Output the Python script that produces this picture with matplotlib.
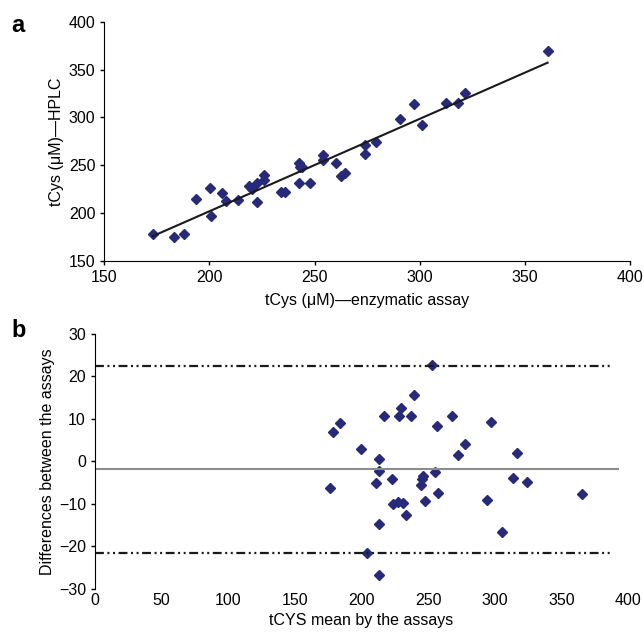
import numpy as np
import matplotlib
matplotlib.use('Agg')
from matplotlib import pyplot as plt

plt.rcParams['font.family'] = ['Liberation Sans', 'DejaVu Sans']
plt.rcParams['font.size'] = 11.5

# panel a: enzymatic assay vs HPLC (uM)
enzymatic = [173.0, 182.9, 187.8, 193.8, 200.1, 200.7, 206.0, 208.0, 213.5, 218.8,
             220.2, 222.6, 222.6, 226.0, 226.0, 234.0, 236.0, 242.4, 242.9, 244.0,
             242.7, 248.0, 253.8, 253.8, 260.3, 262.6, 264.6, 274.1, 274.1, 279.2,
             290.5, 297.5, 301.1, 312.4, 318.3, 321.3, 360.8]
hplc = [178.0, 175.4, 178.0, 214.4, 225.9, 197.5, 220.8, 213.0, 214.0, 228.6,
        225.5, 211.9, 231.1, 239.5, 234.6, 222.3, 222.3, 252.6, 247.8, 248.6,
        231.1, 231.1, 261.0, 255.4, 252.0, 238.7, 242.2, 271.1, 262.0, 273.9,
        298.5, 313.9, 292.0, 315.2, 315.2, 325.7, 369.2]

# panel b: Bland-Altman
ba_mean = [176.4, 178.9, 183.9, 199.4, 204.4, 210.6, 213.4, 213.4, 213.4, 213.4,
           216.9, 222.6, 223.9, 227.2, 228.4, 229.4, 230.9, 233.2, 237.4, 239.6,
           244.7, 245.2, 245.9, 247.9, 252.7, 255.4, 256.4, 257.2, 268.2, 272.6,
           277.7, 294.4, 297.4, 305.7, 313.9, 316.9, 324.2, 365.2]
ba_diff = [-6.2, 6.8, 9.0, 2.8, -21.6, -5.2, 0.5, -2.2, -14.8, -26.7,
           10.7, -4.2, -10.1, -9.6, 10.7, 12.5, -9.9, -12.7, 10.7, 15.6,
           -5.5, -4.2, -3.4, -9.3, 22.7, -2.5, 8.3, -7.5, 10.7, 1.6,
           4.2, -9.0, 9.2, -16.6, -3.9, 1.9, -4.9, -7.8]
mean_diff = -1.8
upper_limit = 22.5
lower_limit = -21.6

navy = '#262a78'
fig = plt.figure(figsize=(6.44, 6.33), dpi=100)

# ---- a ----
ax1 = fig.add_axes([0.162, 0.5877, 0.8163, 0.378])
ax1.plot(enzymatic, hplc, 'D', color=navy, ms=5.5, mec=navy)
coef = np.polyfit(enzymatic, hplc, 1)
xs = np.array([min(enzymatic), max(enzymatic)])
ax1.plot(xs, np.polyval(coef, xs), color='#1a1a1a', lw=1.5)
ax1.set_xlim(150, 400)
ax1.set_ylim(150, 400)
ax1.set_xticks(np.arange(150, 401, 50))
ax1.set_yticks(np.arange(150, 401, 50))
ax1.spines['top'].set_visible(False)
ax1.spines['right'].set_visible(False)
ax1.tick_params(direction='out', length=3, width=1, pad=3.5)
ax1.set_xlabel('tCys (\u03bcM)\u2014enzymatic assay', labelpad=5.5)
ax1.set_ylabel('tCys (\u03bcM)\u2014HPLC', labelpad=3)

# ---- b ----
ax2 = fig.add_axes([0.1475, 0.07, 0.8276, 0.4024])
ax2.plot(ba_mean, ba_diff, 'D', color=navy, ms=5.5, mec=navy)
ax2.axhline(mean_diff, xmin=0, xmax=0.982, color='#8c8c8c', lw=1.5)
for lim in (upper_limit, lower_limit):
    ax2.axhline(lim, xmin=0, xmax=0.967, color='#1a1a1a', lw=1.6,
                dashes=(4, 1.6, 0.9, 1.6, 0.9, 1.6))
ax2.set_xlim(0, 400)
ax2.set_ylim(-30, 30)
ax2.set_xticks(np.arange(0, 401, 50))
ax2.set_yticks(np.arange(-30, 31, 10))
ax2.set_yticklabels([f'{v}'.replace('-', '\u2212') for v in range(-30, 31, 10)])
for s in ('top', 'right', 'bottom'):
    ax2.spines[s].set_visible(False)
ax2.tick_params(axis='y', direction='out', length=3, width=1, pad=3.5)
ax2.tick_params(axis='x', length=0, pad=3)
ax2.set_xlabel('tCYS mean by the assays', labelpad=4)
ax2.set_ylabel('Differences between the assays', labelpad=3)

fig.text(0.018, 0.959, 'a', fontsize=17, fontweight='bold', va='center')
fig.text(0.018, 0.478, 'b', fontsize=17, fontweight='bold', va='center')

fig.savefig('out.png', dpi=100)
